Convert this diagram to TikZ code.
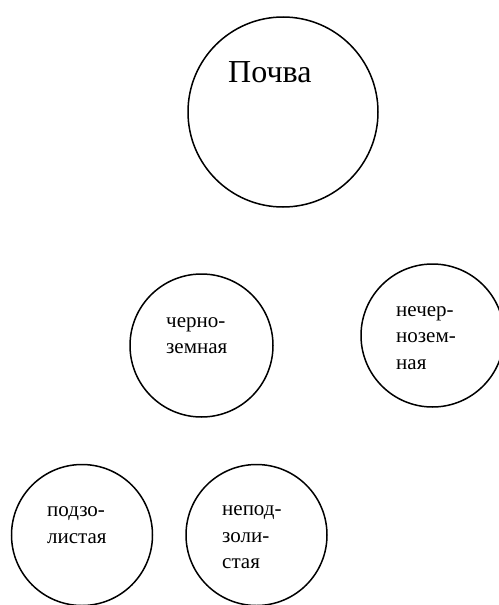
\documentclass[tikz,border=0pt]{standalone}
\usepackage{fontspec}
\setmainfont{Liberation Serif}
\begin{document}
\begin{tikzpicture}[x=1pt,y=1pt,
  ring/.style={draw, circle, line width=1.5pt, inner sep=0pt, minimum size=#1},
  lbl/.style={anchor=base west, inner sep=0pt, font=\fontsize{21}{26.5}\selectfont},
  biglbl/.style={anchor=base west, inner sep=0pt, font=\fontsize{32}{38}\selectfont}
]
\useasboundingbox (0,0) rectangle (498,-605);
\node[ring=190pt] (pochva) at (283,-112) {};
\node[ring=143pt] (cherno) at (201.5,-345.5) {};
\node[ring=143pt] (necherno) at (432.5,-335.5) {};
\node[ring=141pt] (podzol) at (82,-535) {};
\node[ring=141pt] (nepodzol) at (256.5,-535) {};

\node[biglbl] (t0) at ([shift={(-55,30)}]pochva.center) {Почва};
\node[lbl] (t1) at ([shift={(-35.5,18.5)}]cherno.center)
  {\begin{tabular}[t]{@{}l@{}}черно-\\земная\end{tabular}};
\node[lbl] (t2) at ([shift={(-36.5,19.5)}]necherno.center)
  {\begin{tabular}[t]{@{}l@{}}нечер-\\нозем-\\ная\end{tabular}};
\node[lbl] (t3) at ([shift={(-35,18.5)}]podzol.center)
  {\begin{tabular}[t]{@{}l@{}}подзо-\\листая\end{tabular}};
\node[lbl] (t4) at ([shift={(-34.5,19.5)}]nepodzol.center)
  {\begin{tabular}[t]{@{}l@{}}непод-\\золи-\\стая\end{tabular}};
\end{tikzpicture}
\end{document}
